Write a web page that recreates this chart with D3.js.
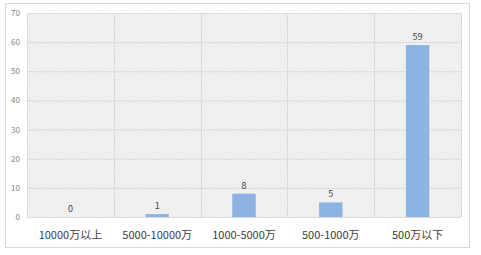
<!DOCTYPE html>
<html><head><meta charset="utf-8">
<script src="https://cdn.jsdelivr.net/npm/d3@7"></script>
<style>body{margin:0;background:#fff}svg{display:block}</style>
</head><body>
<script>
const categories = ["10000万以上","5000-10000万","1000-5000万","500-1000万","500万以下"];
const values = [0,1,8,5,59];
const yTicks = [0,10,20,30,40,50,60,70];

const W=481,H=255;
const svg=d3.select("body").append("svg").attr("width",W).attr("height",H);
const font='"Noto Sans CJK SC","Microsoft YaHei",sans-serif';

const defs=svg.append("defs");
const pat=defs.append("pattern").attr("id","hatch").attr("patternUnits","userSpaceOnUse")
  .attr("width",3).attr("height",3);
pat.append("rect").attr("width",3).attr("height",3).attr("fill","#f4f4f4");
pat.append("path").attr("d","M0,3 L3,0 M-1,1 L1,-1 M2,4 L4,2").attr("stroke","#e2e2e2").attr("stroke-width",0.8);

svg.append("rect").attr("x",5.5).attr("y",3.5).attr("width",464).attr("height",244)
  .attr("fill","#fff").attr("stroke","#d9d9d9");

const m={l:27,r:461,t:13,b:217};
const x=d3.scaleBand().domain(categories).range([m.l,m.r]).paddingInner(0).paddingOuter(0);
const y=d3.scaleLinear().domain([0,70]).range([m.b,m.t]);

svg.append("rect").attr("x",m.l).attr("y",m.t).attr("width",m.r-m.l).attr("height",m.b-m.t).attr("fill","url(#hatch)");

const g=svg.append("g");
g.selectAll("line.h").data(yTicks).join("line").attr("class","h")
  .attr("x1",m.l).attr("x2",m.r).attr("y1",d=>y(d)+0.5).attr("y2",d=>y(d)+0.5)
  .attr("stroke","#dadada").attr("stroke-width",1);
const vx=categories.map(c=>x(c)).concat([m.r]);
g.selectAll("line.v").data(vx).join("line").attr("class","v")
  .attr("x1",d=>Math.round(d)+0.5).attr("x2",d=>Math.round(d)+0.5).attr("y1",m.t).attr("y2",m.b)
  .attr("stroke","#dadada").attr("stroke-width",1);

const yAxis=d3.axisLeft(y).tickValues(yTicks).tickSize(0).tickPadding(7);
const ya=svg.append("g").attr("transform",`translate(${m.l},0)`).call(yAxis);
ya.select(".domain").remove();
ya.selectAll("text").attr("font-family",font).attr("font-size",8).attr("fill","#7f7f7f");

const bw=x.bandwidth()*0.27;
svg.selectAll("rect.bar").data(values).join("rect").attr("class","bar")
  .attr("x",(d,i)=>x(categories[i])+x.bandwidth()/2-bw/2).attr("width",bw)
  .attr("y",d=>y(d)).attr("height",d=>y(0)-y(d)).attr("fill","#8db3e2");

svg.selectAll("text.val").data(values).join("text").attr("class","val")
  .attr("x",(d,i)=>x(categories[i])+x.bandwidth()/2).attr("y",d=>y(d)-5)
  .attr("text-anchor","middle").attr("font-family",font).attr("font-size",9).attr("fill","#404040")
  .text(d=>d);

const xAxis=d3.axisBottom(x).tickSize(0).tickPadding(14);
const xa=svg.append("g").attr("transform",`translate(0,${m.b})`).call(xAxis);
xa.select(".domain").remove();
xa.selectAll("text").attr("font-family",font).attr("font-size",11).attr("fill","#404040");
</script>
</body></html>
